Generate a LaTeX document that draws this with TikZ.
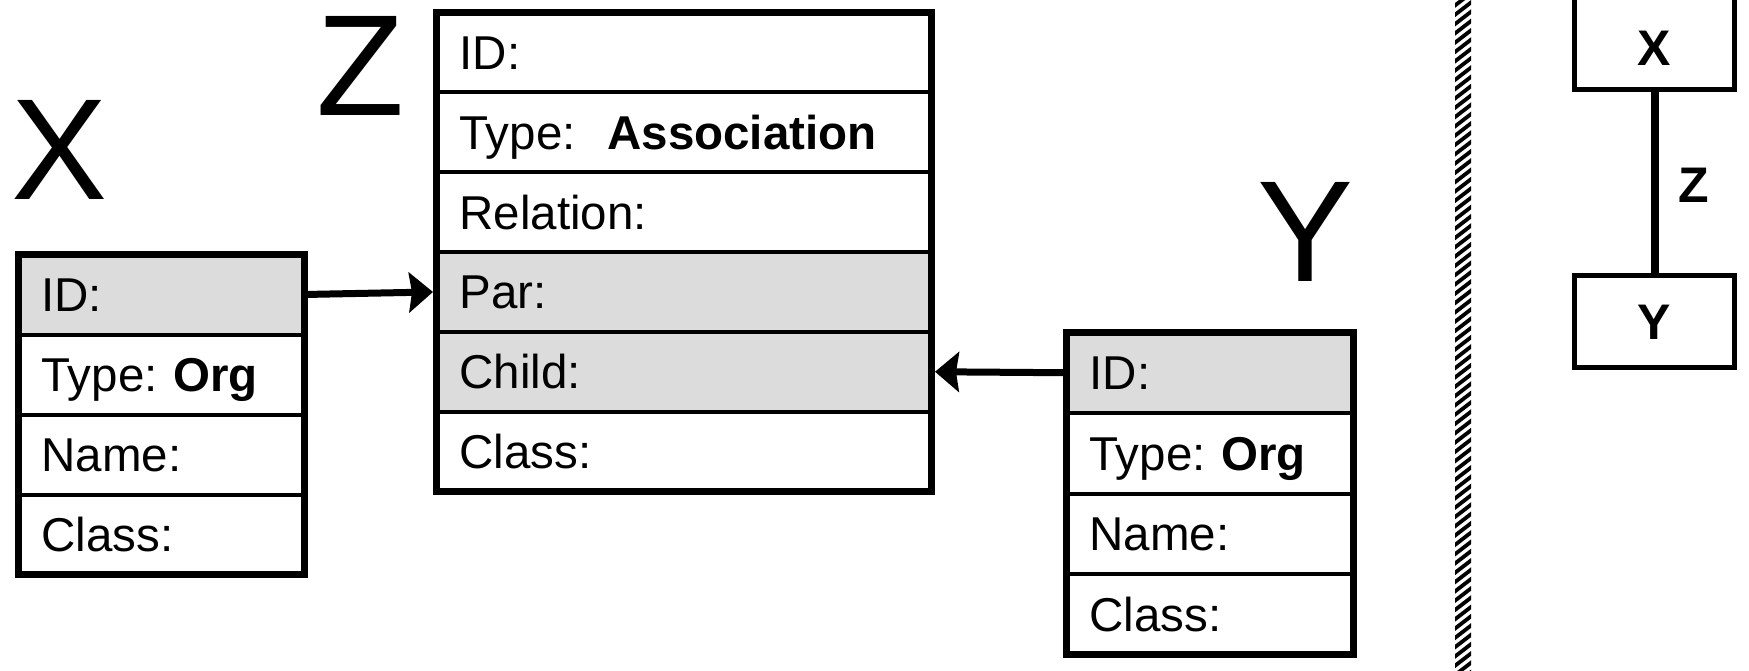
\documentclass[tikz,border=0pt]{standalone}
\usepackage{fontspec}
\setmainfont{Liberation Sans}
\usetikzlibrary{arrows.meta}
\definecolor{rowgray}{RGB}{220,220,220}
\newcommand\rowfont{\fontsize{47.5pt}{56pt}\selectfont\frenchspacing}
\newcommand\bigfont{\fontsize{144pt}{160pt}\selectfont}
\newcommand\smallbold{\fontsize{50pt}{58pt}\selectfont\bfseries}
\begin{document}
\begin{tikzpicture}[x=1pt,y=-1pt,
  rowbase/.style={draw, line width=4pt, anchor=north west, outer sep=0pt,
    inner xsep=23pt, inner ysep=0pt, align=left, font=\rowfont,
    text height=40pt, text depth=6pt},
  xrow/.style={rowbase, minimum width=286pt, text width=240pt, minimum height=80pt},
  zrow/.style={rowbase, minimum width=495pt, text width=449pt, minimum height=79.83pt},
  yrow/.style={rowbase, minimum width=287pt, text width=241pt, minimum height=80.5pt},
  keyrow/.style={fill=rowgray},
  frame/.style={draw, line width=7pt},
  biglabel/.style={font=\bigfont, anchor=base, inner sep=0pt},
  conn/.style={line width=7pt, -{Stealth[length=24pt,width=40pt,inset=3pt]}, shorten >=3.5pt},
  mini/.style={draw, line width=5pt, minimum width=160pt, inner sep=0pt, font=\smallbold, text depth=0pt},
  hatchline/.style={line width=3.8pt}
]
\useasboundingbox (0,0) rectangle (1749,671);

% big labels
\node[biglabel] (lx) at (60,200) {X};
\node[biglabel] (lz) at (360,116) {Z};
\node[biglabel] (ly) at (1306,281) {Y};

% X box
\node[xrow, keyrow] (x1) at (18.5,254.5) {ID:};
\node[xrow] (x2) at (x1.south west) {Type: \textbf{Org}};
\node[xrow] (x3) at (x2.south west) {Name:};
\node[xrow] (x4) at (x3.south west) {Class:};
\draw[frame] (x1.north west) rectangle (x4.south east);

% Z box
\node[zrow] (z1) at (436.5,12.5) {ID:};
\node[zrow] (z2) at (z1.south west) {Type:~ \textbf{Association}};
\node[zrow] (z3) at (z2.south west) {Relation:};
\node[zrow, keyrow] (z4) at (z3.south west) {Par:};
\node[zrow, keyrow] (z5) at (z4.south west) {Child:};
\node[zrow] (z6) at (z5.south west) {Class:};
\draw[frame] (z1.north west) rectangle (z6.south east);

% Y box
\node[yrow, keyrow] (y1) at (1066.5,332.5) {ID:};
\node[yrow] (y2) at (y1.south west) {Type: \textbf{Org}};
\node[yrow] (y3) at (y2.south west) {Name:};
\node[yrow] (y4) at (y3.south west) {Class:};
\draw[frame] (y1.north west) rectangle (y4.south east);

% connectors
\draw[conn] (x1.east) -- (z4.west);
\draw[conn] (y1.west) -- (z5.east);

% hatched divider
\begin{scope}
  \clip (1455,0) rectangle (1471,671);
  \foreach \k in {0,...,75}
    \draw[hatchline] (1450,{9.3*\k}) -- (1476,{9.3*\k-20});
\end{scope}

% small diagram
\node[mini, minimum height=93.5pt, text height=46pt] (sx) at (1654.5,42.75) {X};
\node[mini, minimum height=92pt, text height=36pt] (sy) at (1654.5,321.5) {Y};
\draw[line width=8pt] (sx.south) -- (sy.north)
  node[midway, anchor=west, xshift=20pt, yshift=-3pt, font=\smallbold, inner sep=0pt] (zl) {Z};
\end{tikzpicture}
\end{document}
